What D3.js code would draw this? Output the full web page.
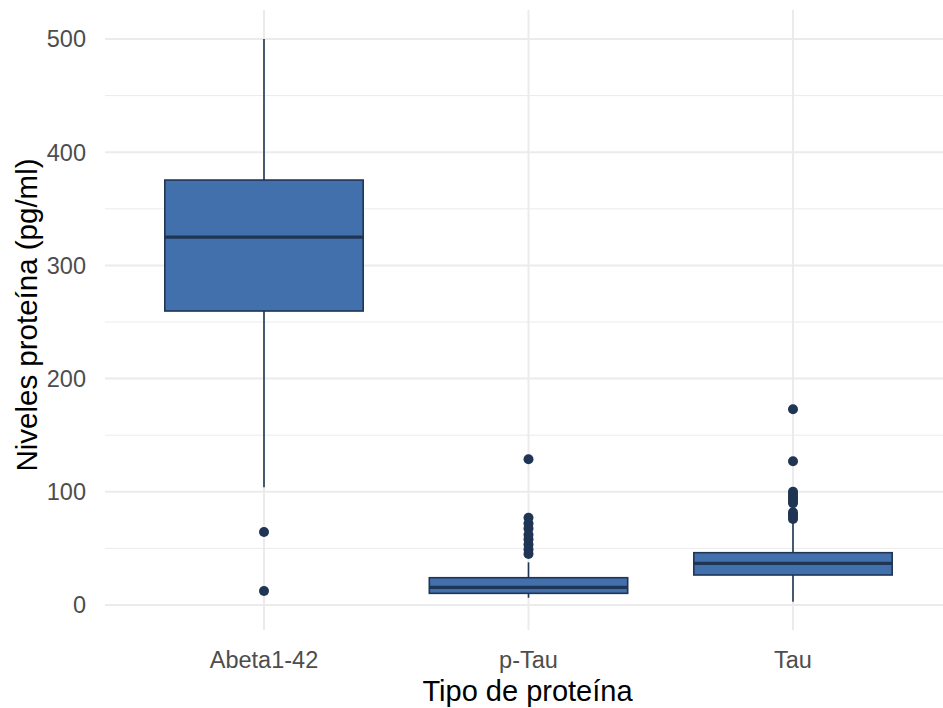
<!DOCTYPE html>
<html>
<head>
<meta charset="utf-8">
<script src="https://cdn.jsdelivr.net/npm/d3@7"></script>
<style>
  html, body { margin: 0; padding: 0; background: #fff; }
  svg { display: block; font-family: "Liberation Sans", Arial, sans-serif; }
</style>
</head>
<body>
<svg id="chart" width="943" height="708"></svg>
<script>
// Protein categories
const categories = ["Abeta1-42", "p-Tau", "Tau"];
// Five-number summaries per category (lower whisker, Q1, median, Q3, upper whisker)
const whiskerLow  = [104, 6.4, 2.9];
const q1          = [259.7, 10.3, 26.5];
const medians     = [325, 15.6, 36.8];
const q3          = [375.4, 24.1, 46.2];
const whiskerHigh = [500, 37.7, 74];
// Outlying observations per category
const outliersAbeta = [64.5, 12.4];
const outliersPTau  = [128.7, 77, 72, 67.5, 62, 58, 53.5, 49, 45];
const outliersTau   = [173, 127, 100, 98, 96, 94, 92, 90, 82, 80, 78, 76];
const outliers = [outliersAbeta, outliersPTau, outliersTau];
// Axis ticks
const yMajorTicks = [0, 100, 200, 300, 400, 500];
const yMinorTicks = [50, 150, 250, 350, 450];

const svg = d3.select("#chart");
const panel = { left: 105, right: 943, top: 10, bottom: 630 };

const x = d3.scaleLinear().domain([1, 3]).range([264, 793]);
const y = d3.scaleLinear().domain([0, 500]).range([605, 39]);
const step = x(2) - x(1);
const boxW = step * 0.75;

const fill = "#4270ad";
const stroke = "#1f3553";

// Grid
const grid = svg.append("g");
grid.selectAll("line.minor").data(yMinorTicks).join("line")
  .attr("x1", panel.left).attr("x2", panel.right)
  .attr("y1", d => y(d)).attr("y2", d => y(d))
  .attr("stroke", "#ebebeb").attr("stroke-width", 1);
grid.selectAll("line.major").data(yMajorTicks).join("line")
  .attr("x1", panel.left).attr("x2", panel.right)
  .attr("y1", d => y(d)).attr("y2", d => y(d))
  .attr("stroke", "#ebebeb").attr("stroke-width", 2);
grid.selectAll("line.vmajor").data(categories).join("line")
  .attr("x1", (d, i) => x(i + 1)).attr("x2", (d, i) => x(i + 1))
  .attr("y1", panel.top).attr("y2", panel.bottom)
  .attr("stroke", "#ebebeb").attr("stroke-width", 2);

// Boxes, whiskers, medians and outliers
const boxes = svg.append("g");
categories.forEach((c, i) => {
  const cx = x(i + 1);
  const g = boxes.append("g");
  g.append("line").attr("x1", cx).attr("x2", cx)
    .attr("y1", y(whiskerHigh[i])).attr("y2", y(q3[i]))
    .attr("stroke", stroke).attr("stroke-width", 1.6);
  g.append("line").attr("x1", cx).attr("x2", cx)
    .attr("y1", y(q1[i])).attr("y2", y(whiskerLow[i]))
    .attr("stroke", stroke).attr("stroke-width", 1.6);
  g.append("rect")
    .attr("x", cx - boxW / 2).attr("width", boxW)
    .attr("y", y(q3[i])).attr("height", y(q1[i]) - y(q3[i]))
    .attr("fill", fill).attr("stroke", stroke).attr("stroke-width", 1.6);
  g.append("line")
    .attr("x1", cx - boxW / 2).attr("x2", cx + boxW / 2)
    .attr("y1", y(medians[i])).attr("y2", y(medians[i]))
    .attr("stroke", stroke).attr("stroke-width", 3.2);
  g.selectAll("circle").data(outliers[i]).join("circle")
    .attr("cx", cx).attr("cy", d => y(d)).attr("r", 5)
    .attr("fill", stroke);
});

// Y tick labels
svg.append("g").selectAll("text").data(yMajorTicks).join("text")
  .attr("x", 86).attr("y", d => y(d)).attr("dy", "0.36em")
  .attr("text-anchor", "end").attr("fill", "#4d4d4d")
  .style("font-size", "23.5px").text(d => d);

// X tick labels
svg.append("g").selectAll("text").data(categories).join("text")
  .attr("x", (d, i) => x(i + 1)).attr("y", 667.5)
  .attr("text-anchor", "middle").attr("fill", "#4d4d4d")
  .style("font-size", "23.5px").text(d => d);

// Axis titles
svg.append("text").attr("x", 527.5).attr("y", 701)
  .attr("text-anchor", "middle").attr("fill", "#000")
  .style("font-size", "29px").text("Tipo de proteína");
svg.append("text")
  .attr("transform", "translate(37, 315) rotate(-90)")
  .attr("text-anchor", "middle").attr("fill", "#000")
  .style("font-size", "29.5px").text("Niveles proteína (pg/ml)");
</script>
</body>
</html>
